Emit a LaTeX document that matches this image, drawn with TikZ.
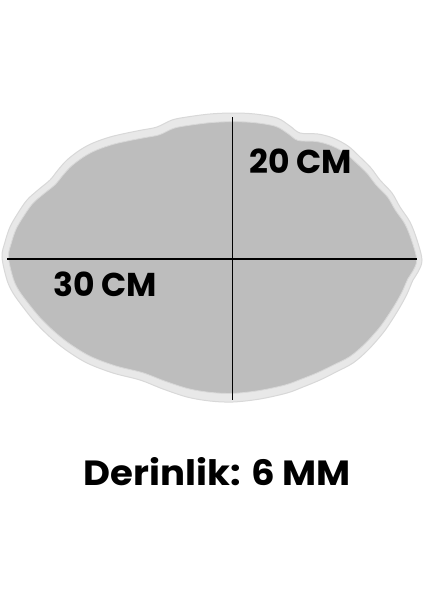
\documentclass[tikz,border=0pt]{standalone}
\usepackage{fontspec}
\setmainfont{Poppins}
\definecolor{rimgray}{HTML}{E8E8E8}
\definecolor{rimedge}{HTML}{D8D8D8}
\definecolor{traygray}{HTML}{BDBDBD}
\begin{document}
\begin{tikzpicture}[
                x = 1pt, y = -1pt,
                rim/.style = {fill = rimgray, draw = rimedge, line width = 1pt},
                tray/.style = {fill = traygray, draw = rimedge, line width = 0.8pt},
                measure/.style = {draw, black, line width = 1.8pt},
                size/.style = {inner sep = 0pt, font = \fontsize{33}{36}\selectfont\bfseries},
            ]
            \useasboundingbox[fill = white] (0, 0) rectangle (424, 600);

            % outline of the tray, used twice
            \def\outline{plot[smooth cycle, tension = 0.55] coordinates {
                (233, 113) (255, 114) (277, 118) (290, 126) (300, 133) (318, 134)
                (333, 138) (348, 146) (360, 157) (371, 168) (380, 180) (392, 193)
                (400, 207) (410, 222) (417, 240) (422, 260) (418, 272) (413, 280)
                (407, 294) (400, 307) (392, 320) (383, 333) (368, 350) (353, 363)
                (336, 372) (320, 380) (303, 387) (287, 393) (260, 399) (233, 402)
                (210, 401) (187, 397) (163, 389) (140, 380) (113, 373) (87, 363)
                (66, 350) (50, 337) (35, 322) (23, 307) (13, 293) (7, 280)
                (2, 257) (5, 242) (10, 227) (18, 213) (27, 200) (38, 190)
                (50, 180) (58, 170) (67, 160) (80, 150) (93, 143) (110, 137)
                (127, 133) (142, 130) (157, 127) (172, 120) (187, 117) (210, 114)}}

            \path[rim] \outline;
            \begin{scope}[shift = {(232, 258)}, xscale = 0.972, yscale = 0.94, shift = {(-232, -258)}]
                \path[tray] \outline;
            \end{scope}

            \coordinate (top) at (232.5, 117);
            \coordinate (bottom) at (232.5, 400);
            \coordinate (left) at (7, 259);
            \coordinate (right) at (417, 259);

            \path[measure] (top) -- (bottom);
            \path[measure] (left) -- (right);

            \node (height) at (249, 173) [size, anchor = base west] {20 CM};
            \node (width) at (53, 296) [size, anchor = base west] {30 CM};
            \node (depth) at (217.5, 485) [size, anchor = base, font = \fontsize{35}{38}\selectfont\bfseries, xscale = 1.06] {Derinlik: 6 MM};
        \end{tikzpicture}
\end{document}
